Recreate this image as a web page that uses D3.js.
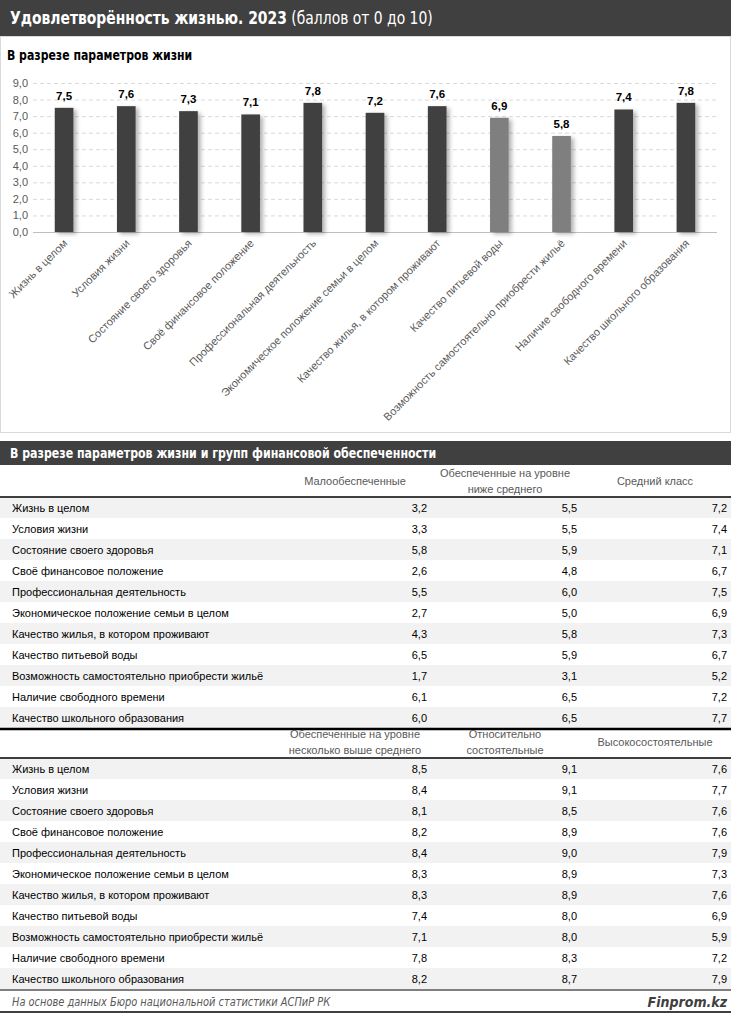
<!DOCTYPE html>
<html><head><meta charset="utf-8">
<script src="https://cdn.jsdelivr.net/npm/d3@7"></script>
<style>
html,body{margin:0;padding:0;background:#fff;}
svg{display:block;}
</style></head>
<body>
<svg id="c" width="731" height="1013"></svg>
<script>
// ---------- data ----------
const params = ["Жизнь в целом","Условия жизни","Состояние своего здоровья","Своё финансовое положение","Профессиональная деятельность","Экономическое положение семьи в целом","Качество жилья, в котором проживают","Качество питьевой воды","Возможность самостоятельно приобрести жильё","Наличие свободного времени","Качество школьного образования"];
const overall = [7.5,7.6,7.3,7.1,7.8,7.2,7.6,6.9,5.8,7.4,7.8];
const highlighted = ["Качество питьевой воды","Возможность самостоятельно приобрести жильё"];
const yTicks = [0,1,2,3,4,5,6,7,8,9];

const groups1 = [["Малообеспеченные"],["Обеспеченные на уровне","ниже среднего"],["Средний класс"]];
const low = [3.2,3.3,5.8,2.6,5.5,2.7,4.3,6.5,1.7,6.1,6.0];
const belowAvg = [5.5,5.5,5.9,4.8,6.0,5.0,5.8,5.9,3.1,6.5,6.5];
const middle = [7.2,7.4,7.1,6.7,7.5,6.9,7.3,6.7,5.2,7.2,7.7];

const groups2 = [["Обеспеченные на уровне","несколько выше среднего"],["Относительно","состоятельные"],["Высокосостоятельные"]];
const aboveAvg = [8.5,8.4,8.1,8.2,8.4,8.3,8.3,7.4,7.1,7.8,8.2];
const relWealthy = [9.1,9.1,8.5,8.9,9.0,8.9,8.9,8.0,8.0,8.3,8.7];
const wealthy = [7.6,7.7,7.6,7.6,7.9,7.3,7.6,6.9,5.9,7.2,7.9];

const titleBold = "Удовлетворённость жизнью. 2023";
const titleRest = " (баллов от 0 до 10)";
const subtitle1 = "В разрезе параметров жизни";
const subtitle2 = "В разрезе параметров жизни и групп финансовой обеспеченности";
const source = "На основе данных Бюро национальной статистики АСПиР РК";
const brand = "Finprom.kz";

// ---------- helpers ----------
const loc = d3.formatLocale({decimal:",",thousands:" ",grouping:[3],currency:["",""]});
const f1 = loc.format(".1f");
const NARROW = "'Liberation Sans Narrow','DejaVu Sans Condensed','Arial Narrow',sans-serif";
const SANS = "'Liberation Sans',Arial,sans-serif";
const DARK = "#404040";

const svg = d3.select("#c");
const defs = svg.append("defs");
const flt = defs.append("filter").attr("id","sh").attr("x","-50%").attr("y","-10%").attr("width","200%").attr("height","130%");
flt.append("feDropShadow").attr("dx",3).attr("dy",2).attr("stdDeviation",2).attr("flood-color","#000").attr("flood-opacity",0.3);

// ---------- title bar ----------
svg.append("rect").attr("x",0).attr("y",0).attr("width",731).attr("height",36).attr("fill",DARK);
const t = svg.append("text").attr("transform","translate(10,24) scale(0.86,1)").attr("fill","#fff")
  .style("font-family",NARROW).style("font-size","18px");
t.append("tspan").attr("font-weight","bold").text(titleBold);
t.append("tspan").text(titleRest);

// chart panel border
svg.append("rect").attr("x",0.5).attr("y",36.5).attr("width",730).attr("height",396).attr("fill","none").attr("stroke","#d9d9d9");
svg.append("text").attr("transform","translate(7,60) scale(0.9,1)").attr("fill","#000").attr("font-weight","bold")
  .style("font-family",NARROW).style("font-size","13.5px").text(subtitle1);

// ---------- bar chart ----------
const x = d3.scaleBand().domain(params).range([33,717]).paddingInner(0.7).paddingOuter(0.35);
const y = d3.scaleLinear().domain([0,9]).range([232,83]);

const gGrid = svg.append("g");
gGrid.selectAll("line").data(yTicks.filter(d=>d>0)).join("line")
  .attr("x1",33).attr("x2",717).attr("y1",d=>y(d)+0.5).attr("y2",d=>y(d)+0.5)
  .attr("stroke","#d9d9d9").attr("stroke-dasharray","4,3");

const yAxis = svg.append("g").attr("transform","translate(33,0)")
  .call(d3.axisLeft(y).tickValues(yTicks).tickFormat(f1).tickSize(0).tickPadding(5));
yAxis.select(".domain").remove();
yAxis.selectAll("text").attr("fill","#595959").style("font-family",SANS).style("font-size","11px");

svg.append("line").attr("x1",33).attr("x2",717).attr("y1",y(0)+0.5).attr("y2",y(0)+0.5).attr("stroke","#bfbfbf");

svg.append("g").selectAll("rect").data(params).join("rect")
  .attr("x",d=>x(d)).attr("width",x.bandwidth())
  .attr("y",(d,i)=>y(overall[i])).attr("height",(d,i)=>y(0)-y(overall[i]))
  .attr("fill",d=>highlighted.includes(d)?"#7f7f7f":DARK)
  .attr("filter","url(#sh)");

svg.append("g").selectAll("text").data(params).join("text")
  .attr("x",d=>x(d)+x.bandwidth()/2).attr("y",(d,i)=>y(overall[i])-8)
  .attr("text-anchor","middle").attr("font-weight","bold").attr("fill","#000")
  .style("font-family",SANS).style("font-size","11.5px")
  .text((d,i)=>f1(overall[i]));

const xAxis = svg.append("g").attr("transform","translate(0,"+(y(0))+")")
  .call(d3.axisBottom(x).tickSize(0).tickPadding(0));
xAxis.select(".domain").remove();
xAxis.selectAll("text")
  .attr("fill","#595959").style("font-family",SANS).style("font-size","11px")
  .attr("text-anchor","end").attr("dy",null).attr("y",0)
  .attr("transform","translate(4,12) rotate(-45)");

// ---------- table ----------
svg.append("rect").attr("x",0).attr("y",441).attr("width",731).attr("height",24).attr("fill",DARK);
svg.append("text").attr("transform","translate(10,458) scale(0.845,1)").attr("fill","#fff").attr("font-weight","bold")
  .style("font-family",NARROW).style("font-size","14.5px").text(subtitle2);

const colX = d3.scaleBand().domain([0,1,2]).range([280,730]);

function table(top, headers, series){
  const headH = 32;
  const rowsTop = top + headH;
  const rowY = d3.scaleBand().domain(params).range([rowsTop, rowsTop + 21*params.length]);
  const g = svg.append("g");
  headers.forEach((lines,ci)=>{
    const cx = colX(ci)+colX.bandwidth()/2;
    const n = lines.length;
    lines.forEach((ln,li)=>{
      g.append("text").attr("x",cx).attr("y",top+headH/2 + (li-(n-1)/2)*15.5 + 4)
        .attr("text-anchor","middle").attr("fill","#595959")
        .style("font-family",SANS).style("font-size","11px").text(ln);
    });
  });
  g.selectAll("rect.bg").data(params).join("rect").attr("class","bg")
    .attr("x",0).attr("width",731).attr("y",d=>rowY(d)).attr("height",rowY.bandwidth())
    .attr("fill",(d,i)=>i%2===0?"#f2f2f2":"#fff");
  g.selectAll("text.lab").data(params).join("text").attr("class","lab")
    .attr("x",12).attr("y",d=>rowY(d)+rowY.bandwidth()/2+4)
    .attr("fill","#000").style("font-family",SANS).style("font-size","11px").text(d=>d);
  series.forEach((vals,ci)=>{
    g.selectAll("text.v"+ci).data(params).join("text").attr("class","v"+ci)
      .attr("x",colX(ci)+colX.bandwidth()-3).attr("y",d=>rowY(d)+rowY.bandwidth()/2+4)
      .attr("text-anchor","end").attr("fill","#000")
      .style("font-family",SANS).style("font-size","11px").text((d,i)=>f1(vals[i]));
  });
  g.append("line").attr("x1",0).attr("x2",731).attr("y1",rowsTop).attr("y2",rowsTop).attr("stroke","#000").attr("stroke-width",1.3);
  return rowsTop + 21*params.length;
}
const end1 = table(465, groups1, [low,belowAvg,middle]);
svg.append("line").attr("x1",0).attr("x2",731).attr("y1",end1+1).attr("y2",end1+1).attr("stroke","#000").attr("stroke-width",2.5);
const end2 = table(end1+2-4, groups2, [aboveAvg,relWealthy,wealthy]);

// ---------- footer ----------
svg.append("line").attr("x1",0).attr("x2",731).attr("y1",end2+1).attr("y2",end2+1).attr("stroke","#000").attr("stroke-width",1);
svg.append("text").attr("transform","translate(12,1006) scale(0.953,1)").attr("fill","#595959").attr("font-style","italic")
  .style("font-family",NARROW).style("font-size","11.5px").text(source);
svg.append("text").attr("x",727).attr("y",1007).attr("text-anchor","end").attr("fill",DARK)
  .attr("font-style","italic").attr("font-weight","bold")
  .style("font-family",NARROW).style("font-size","14px").text(brand);
svg.append("line").attr("x1",0).attr("x2",731).attr("y1",1012).attr("y2",1012).attr("stroke","#000").attr("stroke-width",1.5);
</script>
</body></html>
